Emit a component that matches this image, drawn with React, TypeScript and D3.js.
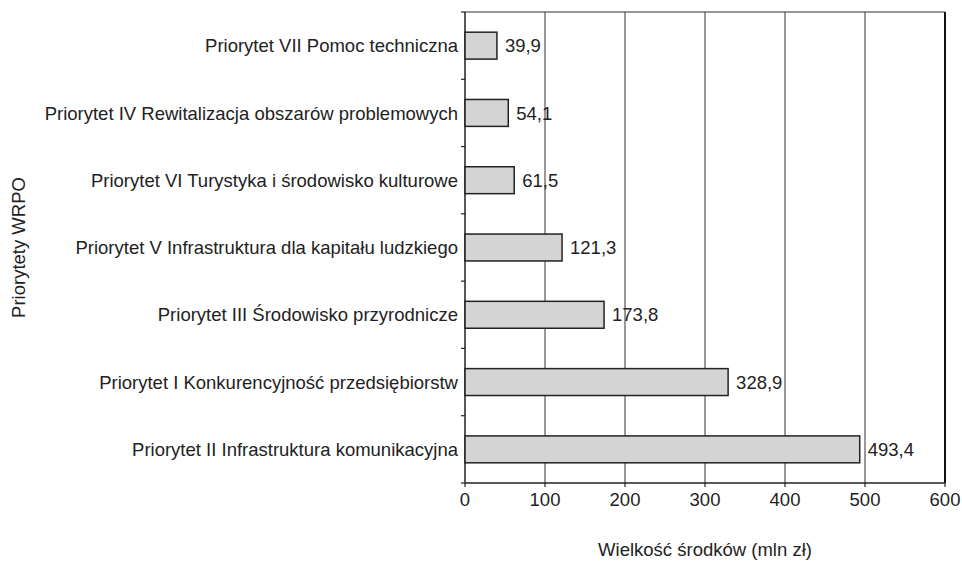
import React from "react";
import * as d3 from "d3";

const categories = [
  "Priorytet VII Pomoc techniczna",
  "Priorytet IV Rewitalizacja obszarów problemowych",
  "Priorytet VI Turystyka i środowisko kulturowe",
  "Priorytet V Infrastruktura dla kapitału ludzkiego",
  "Priorytet III Środowisko przyrodnicze",
  "Priorytet I Konkurencyjność przedsiębiorstw",
  "Priorytet II Infrastruktura komunikacyjna",
];
const values = [39.9, 54.1, 61.5, 121.3, 173.8, 328.9, 493.4];
const xTicks = [0, 100, 200, 300, 400, 500, 600];
const xTitle = "Wielkość środków (mln zł)";
const yTitle = "Priorytety WRPO";

const W = 962;
const H = 561;
const left = 465;
const right = 945;
const top = 12;
const bottom = 483;
const font = "'Liberation Sans', Arial, Helvetica, sans-serif";
const fs = 18.5;

export default function App() {
  const x = d3.scaleLinear().domain([0, 600]).range([left, right]);
  const y = d3.scaleBand<string>().domain(categories).range([top, bottom]).padding(0);
  const step = y.step();
  const bh = step * 0.4;
  const fmt = (v: number) => v.toFixed(1).replace(".", ",");
  const boundaries = d3.range(categories.length + 1).map((i) => top + i * step);

  return (
    <svg width={W} height={H} style={{ position: "absolute", left: 0, top: 0, background: "#fff" }} fontFamily={font}>
      {xTicks.slice(1, -1).map((t) => (
        <line key={"g" + t} x1={x(t)} x2={x(t)} y1={top} y2={bottom} stroke="#555" strokeWidth={1.2} />
      ))}
      <line x1={left} x2={right} y1={top} y2={top} stroke="#333" strokeWidth={1.2} />
      <line x1={right} x2={right} y1={top} y2={bottom} stroke="#111" strokeWidth={2} />
      <line x1={left} x2={right} y1={bottom} y2={bottom} stroke="#222" strokeWidth={1.5} />
      <line x1={left} x2={left} y1={top} y2={bottom} stroke="#222" strokeWidth={1.5} />
      {boundaries.map((b, i) => (
        <line key={"yt" + i} x1={left - 4} x2={left} y1={b} y2={b} stroke="#222" strokeWidth={1.2} />
      ))}
      {xTicks.map((t) => (
        <g key={"xt" + t}>
          <line x1={x(t)} x2={x(t)} y1={bottom} y2={bottom + 4} stroke="#222" strokeWidth={1.2} />
          <text x={x(t)} y={506} textAnchor="middle" fontSize={fs} fill="#222">
            {t}
          </text>
        </g>
      ))}
      {categories.map((c, i) => {
        const cy = (y(c) as number) + step / 2;
        return (
          <g key={c}>
            <rect x={x(0)} y={cy - bh / 2} width={x(values[i]) - x(0)} height={bh} fill="#d4d4d4" stroke="#222" strokeWidth={1.5} />
            <text x={x(values[i]) + 8} y={cy + 6.7} fontSize={fs} fill="#222">
              {fmt(values[i])}
            </text>
            <text x={left - 7} y={cy + 6.7} textAnchor="end" fontSize={fs} fill="#222">
              {c}
            </text>
          </g>
        );
      })}
      <text x={(left + right) / 2} y={556} textAnchor="middle" fontSize={fs} fill="#222">
        {xTitle}
      </text>
      <text transform={`translate(25, ${(top + bottom) / 2}) rotate(-90)`} textAnchor="middle" fontSize={fs} fill="#222">
        {yTitle}
      </text>
    </svg>
  );
}
